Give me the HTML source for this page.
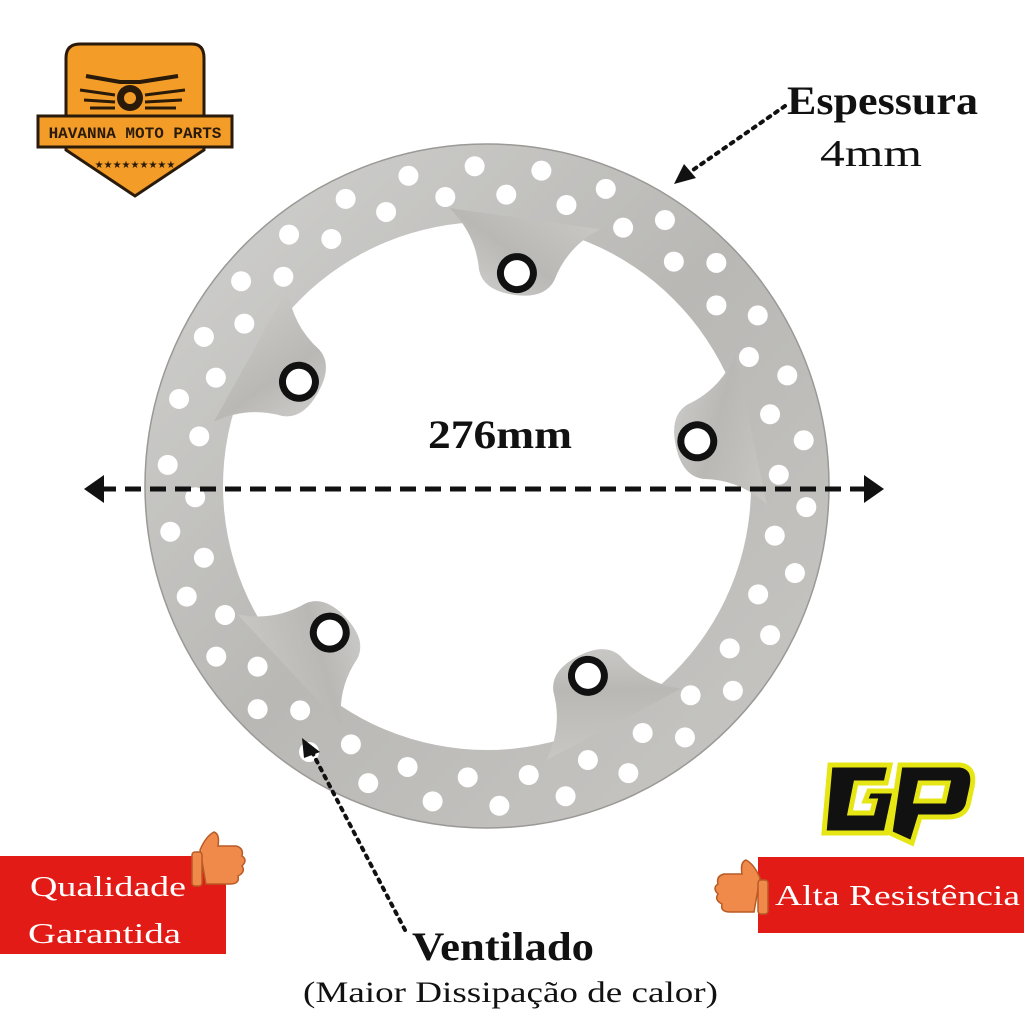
<!DOCTYPE html>
<html><head><meta charset="utf-8"><style>
html,body{margin:0;padding:0;background:#fff;width:1024px;height:1024px;overflow:hidden}
svg{display:block}
.s{font-family:"Liberation Serif","DejaVu Serif",serif}
</style></head><body>
<svg width="1024" height="1024" viewBox="0 0 1024 1024" xmlns="http://www.w3.org/2000/svg">
<defs>
<linearGradient id="steel" x1="0" y1="0" x2="1" y2="1">
<stop offset="0" stop-color="#d2d2d0"/><stop offset="0.5" stop-color="#b9b8b5"/><stop offset="1" stop-color="#c8c7c4"/>
</linearGradient>
<g id="tab">
<path d="M757,410 Q735,440 700,448 Q680,455 680,486 Q680,517 700,524 Q735,532 757,562 Z" fill="url(#steel)"/>
<circle cx="702" cy="486" r="20" fill="#111"/><circle cx="702" cy="486" r="13" fill="#fff"/>
</g>
</defs>
<!-- disc -->
<circle cx="487" cy="486" r="342" fill="url(#steel)" stroke="#9a9996" stroke-width="1.5"/>
<circle cx="487" cy="486" r="264" fill="#fff"/>
<use href="#tab" transform="rotate(-82 487 486)"/>
<use href="#tab" transform="rotate(209 487 486)"/>
<use href="#tab" transform="rotate(-12 487 486)"/>
<use href="#tab" transform="rotate(137 487 486)"/>
<use href="#tab" transform="rotate(62 487 486)"/>
<g fill="#fff" id="holes"></g>
<!-- dimension arrow -->
<line x1="100" y1="489" x2="868" y2="489" stroke="#111" stroke-width="5" stroke-dasharray="16,9"/>
<path d="M84,489 L104,475 L104,503z" fill="#111"/>
<path d="M884,489 L864,475 L864,503z" fill="#111"/>
<text x="428" y="448" class="s" font-weight="bold" font-size="40" fill="#111" textLength="144" lengthAdjust="spacingAndGlyphs">276mm</text>
<!-- espessura -->
<line x1="785" y1="106" x2="690" y2="172" stroke="#111" stroke-width="4" stroke-dasharray="3,6" stroke-linecap="round"/>
<path d="M674,184 L684,164 L696,178z" fill="#111"/>
<text x="787" y="114" class="s" font-weight="bold" font-size="40" fill="#111" textLength="191" lengthAdjust="spacingAndGlyphs">Espessura</text>
<text x="820" y="166" class="s" font-size="38" fill="#111" textLength="102" lengthAdjust="spacingAndGlyphs">4mm</text>
<!-- ventilado -->
<line x1="405" y1="930" x2="312" y2="752" stroke="#111" stroke-width="4" stroke-dasharray="3,6" stroke-linecap="round"/>
<path d="M302,738 L320,752 L304,758z" fill="#111"/>
<text x="412" y="960" class="s" font-weight="bold" font-size="40" fill="#111" textLength="182" lengthAdjust="spacingAndGlyphs">Ventilado</text>
<text x="303" y="1002" class="s" font-size="30" fill="#111" textLength="415" lengthAdjust="spacingAndGlyphs">(Maior Dissipação de calor)</text>
<!-- red boxes -->
<rect x="0" y="856" width="226" height="98" fill="#e31b17"/>
<text x="30" y="896" class="s" font-size="29" fill="#fff" textLength="156" lengthAdjust="spacingAndGlyphs">Qualidade</text>
<text x="28" y="943" class="s" font-size="29" fill="#fff" textLength="153" lengthAdjust="spacingAndGlyphs">Garantida</text>
<rect x="758" y="857" width="266" height="76" fill="#e31b17"/>
<text x="775" y="905" class="s" font-size="29" fill="#fff" textLength="245" lengthAdjust="spacingAndGlyphs">Alta Resistência</text>
<!-- thumbs -->
<g fill="#f08a4b" stroke="#b85a25" stroke-width="1.5">
<path d="M200,850 q6,-14 14,-18 q6,2 4,14 l18,0 q8,2 6,10 q6,4 0,10 q4,6 -4,10 q2,8 -8,8 l-24,0 z"/>
<rect x="192" y="852" width="10" height="34" rx="3"/>
<path d="M760,878 q-6,-14 -14,-18 q-6,2 -4,14 l-18,0 q-8,2 -6,10 q-6,4 0,10 q-4,6 4,10 q-2,8 8,8 l24,0 z"/>
<rect x="758" y="880" width="10" height="34" rx="3"/>
</g>
<!-- GP logo -->
<g transform="translate(820,755)">
<path d="M10,10 L70,10 L66,28 L36,28 L30,58 L52,58 L55,46 L45,46 L49,36 L75,36 L66,78 L4,78 Z" fill="#111" stroke="#e6e614" stroke-width="5"/>
<path d="M80,10 L140,10 Q156,12 152,32 L148,50 Q144,62 128,62 L100,62 L92,88 L70,78 Z M100,28 L96,46 L124,46 L128,28 Z" fill="#111" stroke="#e6e614" stroke-width="5" fill-rule="evenodd"/>
</g>
<!-- shop logo -->
<g>
<path d="M66,58 Q66,44 80,44 L192,44 Q204,44 204,58 L204,150 L135,196 L66,150 Z" fill="#f39c27" stroke="#2a1a0a" stroke-width="3"/>
<rect x="38" y="116" width="194" height="31" fill="#f39c27" stroke="#2a1a0a" stroke-width="3"/>
<text x="135" y="138" text-anchor="middle" font-family="Liberation Mono,monospace" font-weight="bold" font-size="16" fill="#2a1a0a">HAVANNA MOTO PARTS</text>
<circle cx="130" cy="98" r="13" fill="#2a1a0a"/><circle cx="130" cy="98" r="6" fill="#f39c27"/>
<path d="M80,90 L115,95 M145,95 L185,90 M84,100 L115,102 M145,102 L182,100 M90,108 L115,108 M145,108 L176,108" stroke="#2a1a0a" stroke-width="3"/>
<path d="M86,76 L120,82 L140,82 L178,76" stroke="#2a1a0a" stroke-width="4" fill="none"/>
<text x="135" y="168" text-anchor="middle" font-size="10" fill="#2a1a0a">★★★★★★★★★</text>
</g>
</svg>
<script>
(function(){var g=document.getElementById('holes'),ns='http://www.w3.org/2000/svg';
var n=30;for(var i=0;i<n;i++){for(var k=0;k<2;k++){var a=(i+(k?0.5:0))/n*2*Math.PI-1.4;var r=k?292:320;
var c=document.createElementNS(ns,'circle');c.setAttribute('cx',487+r*Math.cos(a));c.setAttribute('cy',486+r*Math.sin(a));c.setAttribute('r',10);g.appendChild(c);}}})();
</script>
</body></html>
